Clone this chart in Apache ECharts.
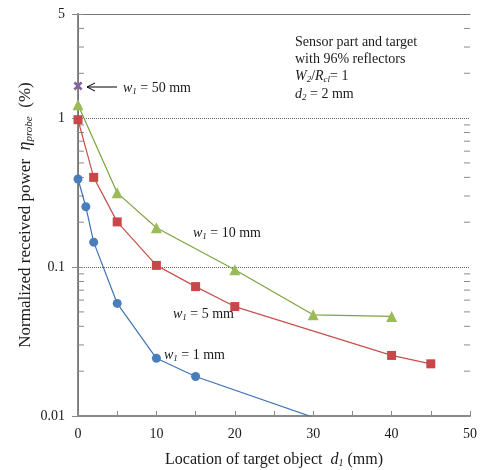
<!DOCTYPE html>
<html><head><meta charset="utf-8">
<script src="https://cdn.jsdelivr.net/npm/echarts@6/dist/echarts.min.js"></script>
<style>html,body{margin:0;padding:0;background:#fff}#c{width:481px;height:470px}</style>
</head><body><div id="c"></div>
<script>
// Data (d1 in mm, eta_probe in %)
const d1_w1_1mm = [0, 1, 2, 5, 10, 15, 30];
const eta_w1_1mm = [0.39, 0.254, 0.147, 0.057, 0.0244, 0.0184, 0.0098];
const d1_w1_5mm = [0, 2, 5, 10, 15, 20, 40, 45];
const eta_w1_5mm = [0.975, 0.40, 0.201, 0.1026, 0.0739, 0.0543, 0.0255, 0.0224];
const d1_w1_10mm = [0, 5, 10, 20, 30, 40];
const eta_w1_10mm = [1.228, 0.315, 0.1835, 0.096, 0.0478, 0.0466];
const d1_w1_50mm = [0];
const eta_w1_50mm = [1.645];
const logMinorTicks = [0.02,0.03,0.04,0.05,0.06,0.07,0.08,0.09,0.2,0.3,0.4,0.5,0.6,0.7,0.8,0.9,2,3,4];

const FONT = '"Liberation Serif", "DejaVu Serif", serif';
const TXT = '#1a1a1a';
const AX = '#8a8a8a';

function pairs(xs, ys){ return xs.map((x,i)=>[x, ys[i]]); }

const chart = echarts.init(document.getElementById('c'));

const richBase = {
  n: {fontFamily: FONT, fontSize: 14, color: TXT},
  i: {fontFamily: FONT, fontSize: 14, fontStyle: 'italic', color: TXT},
  s: {fontFamily: FONT, fontSize: 9, fontStyle: 'italic', color: TXT, padding: [7, 0, 0, 0]}
};

function label(x, y, text){
  return {type: 'text', left: x, top: y, z: 50,
    style: {text: text, rich: richBase, fontFamily: FONT, fontSize: 14, fill: TXT}};
}

chart.setOption({
  animation: false,
  backgroundColor: '#fff',
  grid: {left: 78, right: 11, top: 14, bottom: 54, containLabel: false, outerBoundsMode: 'none'},
  xAxis: [{
    type: 'value', min: 0, max: 50, interval: 10,
    axisLine: {show: true, lineStyle: {color: AX, width: 2}},
    axisTick: {show: true, inside: true, length: 5, lineStyle: {color: AX, width: 1}},
    minorTick: {show: true, splitNumber: 2, length: 5, lineStyle: {color: AX, width: 1}},
    splitLine: {show: false},
    axisLabel: {fontFamily: FONT, fontSize: 14, color: TXT, margin: 11},
    name: 'Location of target object  {i|d}{s|1} (mm)',
    nameLocation: 'middle', nameGap: 35, nameMoveOverlap: false,
    nameTextStyle: {fontFamily: FONT, fontSize: 16, color: TXT,
      rich: {i: {fontFamily: FONT, fontSize: 16, fontStyle: 'italic', color: TXT},
             s: {fontFamily: FONT, fontSize: 10, fontStyle: 'italic', color: TXT, padding: [7,0,0,0]}}}
  }, {
    type: 'value', min: 0, max: 50, position: 'top',
    axisLine: {show: true, lineStyle: {color: '#777', width: 1}},
    axisTick: {show: false}, axisLabel: {show: false}, splitLine: {show: false}
  }],
  yAxis: [{
    type: 'log', logBase: 10, min: 0.01, max: 5,
    axisLine: {show: true, lineStyle: {color: AX, width: 2}},
    axisTick: {show: true, inside: true, length: 5, lineStyle: {color: AX, width: 1}},
    splitLine: {show: true, lineStyle: {color: '#666', width: 1, type: [1, 1]}},
    axisLabel: {fontFamily: FONT, fontSize: 14, color: TXT, margin: 13,
      formatter: v => String(parseFloat(Number(v).toPrecision(6)))},
    name: 'Normalized received power  {i|η}{s|probe}  (%)',
    nameLocation: 'middle', nameGap: 43, nameMoveOverlap: false,
    nameTextStyle: {fontFamily: FONT, fontSize: 17, color: TXT,
      rich: {i: {fontFamily: FONT, fontSize: 18, fontStyle: 'italic', color: TXT},
             s: {fontFamily: FONT, fontSize: 11, fontStyle: 'italic', color: TXT, padding: [8,0,0,0]}}}
  }, {
    type: 'log', logBase: 10, min: 0.01, max: 5, position: 'right',
    axisLine: {show: true, lineStyle: {color: '#777', width: 1}},
    axisTick: {show: true, inside: true, length: 6, lineStyle: {color: AX, width: 1}},
    axisLabel: {show: false}, splitLine: {show: false}
  }],
  series: [
    {type: 'custom', xAxisIndex: 0, yAxisIndex: 0, silent: true, clip: false, z: 1,
      data: logMinorTicks.map(v => [0, v]),
      renderItem: function(params, api){
        const v = api.value(1);
        const L = api.coord([0, v]);
        const R = api.coord([50, v]);
        return {type: 'group', children: [
          {type: 'line', shape: {x1: L[0], y1: L[1], x2: L[0] + 6, y2: L[1]}, style: {stroke: AX, lineWidth: 1}},
          {type: 'line', shape: {x1: R[0], y1: R[1], x2: R[0] - 6, y2: R[1]}, style: {stroke: AX, lineWidth: 1}}
        ]};
      }},
    {name: 'w1 = 1 mm', type: 'line', data: pairs(d1_w1_1mm, eta_w1_1mm),
      symbol: 'circle', symbolSize: 9, clip: true, z: 3,
      lineStyle: {color: '#3f72b5', width: 1.2}, itemStyle: {color: '#4a7ebb'}},
    {name: 'w1 = 5 mm', type: 'line', data: pairs(d1_w1_5mm, eta_w1_5mm),
      symbol: 'rect', symbolSize: 9, clip: true, z: 3,
      lineStyle: {color: '#c9504c', width: 1.2}, itemStyle: {color: '#c9474a'}},
    {name: 'w1 = 10 mm', type: 'line', data: pairs(d1_w1_10mm, eta_w1_10mm),
      symbol: 'triangle', symbolSize: 11, clip: true, z: 3,
      lineStyle: {color: '#7ea33f', width: 1.2}, itemStyle: {color: '#9bbb59'}},
    {name: 'w1 = 50 mm', type: 'line', data: pairs(d1_w1_50mm, eta_w1_50mm),
      symbol: 'path://M2,0 L5,3 L8,0 L10,2 L7,5 L10,8 L8,10 L5,7 L2,10 L0,8 L3,5 L0,2 Z',
      symbolSize: 9, clip: false, z: 4,
      itemStyle: {color: '#8064a2'}}
  ],
  graphic: [
    {type: 'line', z: 50, shape: {x1: 87, y1: 87, x2: 117, y2: 87}, style: {stroke: '#000', lineWidth: 1}},
    {type: 'polyline', z: 50, shape: {points: [[95, 83], [87, 87], [95, 91]]}, style: {stroke: '#000', lineWidth: 1, fill: null}},
    label(123, 81, '{i|w}{s|1}{n| = 50 mm}'),
    label(193, 226, '{i|w}{s|1}{n| = 10 mm}'),
    label(173, 307, '{i|w}{s|1}{n| = 5 mm}'),
    label(164, 348, '{i|w}{s|1}{n| = 1 mm}'),
    label(295, 35, '{n|Sensor part and target}'),
    label(295, 52, '{n|with 96% reflectors}'),
    label(295, 69, '{i|W}{s|2}{n|/}{i|R}{s|cl}{n|= 1}'),
    label(295, 87, '{i|d}{s|2}{n| = 2 mm}')
  ]
});
</script></body></html>
